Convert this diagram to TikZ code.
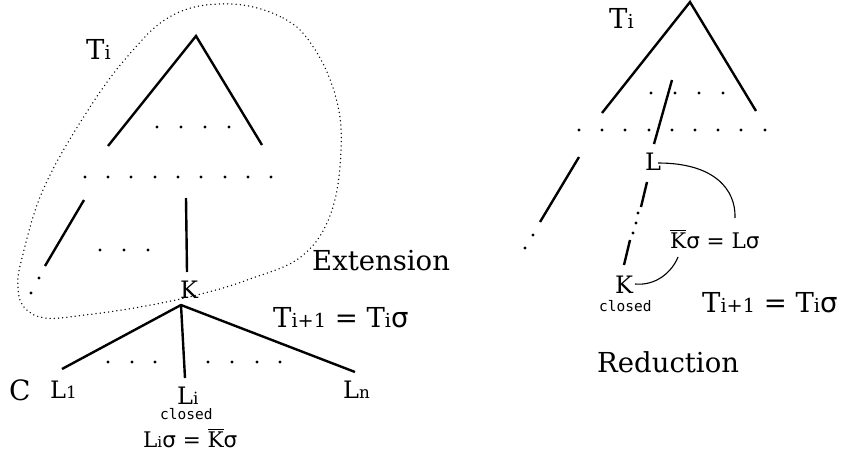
\documentclass[tikz,border=0pt]{standalone}
\usepackage{fontspec}
\usepackage{graphicx}
\setmainfont{DejaVu Serif}
\newfontfamily\sgfont{DejaVu Sans}
\newfontfamily\cmono{DejaVu Sans Mono}
\newcommand\lo[1]{\scalebox{0.7}{#1}}
\newcommand\sg{{\sgfont σ}}
\newcommand\ovl[1]{\vbox{\hrule height 1pt\kern1.8pt\hbox{#1}}}
\begin{document}
\begin{tikzpicture}[x=1pt,y=-1pt,
  br/.style={line width=2.4pt},
  fine/.style={line width=1.1pt},
  blob/.style={line width=1.5pt, line cap=round, dash pattern=on 0pt off 4.2pt},
  txt/.style={inner sep=0pt, anchor=base west},
  big/.style={txt, font=\fontsize{27.5}{32}\selectfont},
  mid/.style={txt, font=\fontsize{24}{28}\selectfont},
  eqs/.style={txt, font=\fontsize{21.5}{26}\selectfont},
  cls/.style={txt, font=\cmono\fontsize{14.5}{17}\selectfont},
  pt/.style={circle, fill=black, inner sep=0pt, minimum size=3.4pt}
]
\useasboundingbox (0,0) rectangle (845,457);

% ---------------- left: extension ----------------
\coordinate (la) at (196,36);
\coordinate (lal) at (108,146);
\coordinate (lar) at (262,145);
\draw[br] (lal) -- (la) -- (lar);
\foreach \x in {157,181,205,229} \node[pt] at (\x,127) {};
\foreach \x in {85,108,131,155,178,201,225,248,271} \node[pt] at (\x,177) {};
\coordinate (lb1) at (84,200);
\coordinate (lb2) at (45,266);
\draw[br] (lb1) -- (lb2);
\node[pt] (ld1) at (39,278) {};
\node[pt] (ld2) at (31,293) {};
\foreach \x in {100,124,148} \node[pt] at (\x,250) {};
\coordinate (lv1) at (186,198);
\coordinate (lv2) at (187,272);
\draw[br] (lv1) -- (lv2);
\node[mid] (K) at (180,298) {K};
\coordinate (kb) at (181,305);
\coordinate (e1) at (62,369);
\coordinate (ei) at (185,378);
\coordinate (en) at (355,372);
\draw[br, line join=round] (e1) -- (kb) -- (en);
\draw[br] (kb) -- (ei);
\foreach \x in {108,132,155,208,232,257,280} \node[pt] at (\x,362) {};

\draw[blob] plot[smooth cycle, tension=0.65] coordinates {
  (230,4) (283,18) (314,48) (336,98) (341,150) (331,213) (302,256)
  (250,279) (197,295) (140,307) (85,315) (45,318) (24,307) (18,287)
  (22,258) (43,190) (83,118) (127,57) (173,15)};

\node[big] (Ti) at (86,60) {T\lo{i}};
\node[big] (ext) at (312,270) {Extension};
\node[big] (Teq) at (273,327) {T\lo{i+1} = T\lo{i}\sg};
\node[txt, font=\fontsize{28}{32}\selectfont] (C) at (9,400) {C};
\node[mid] (L1) at (50,398) {L\lo{1}};
\node[mid] (Li) at (177,404) {L\lo{i}};
\node[cls] (cl1) at (160,419) {closed};
\node[eqs] (eq1) at (143,447) {L\lo{i}\sg{} = \ovl{K}\sg};
\node[mid] (Ln) at (343,398) {L\lo{n}};

% ---------------- right: reduction ----------------
\coordinate (ra) at (690,2);
\coordinate (ral) at (602,113);
\coordinate (rar) at (756,111);
\draw[br] (ral) -- (ra) -- (rar);
\foreach \x in {651,675,699,723} \node[pt] at (\x,93) {};
\foreach \x in {579,602,625,649,672,695,718,741,765} \node[pt] at (\x,130) {};
\coordinate (rv1) at (672,80);
\coordinate (rv2) at (654,144);
\draw[br] (rv1) -- (rv2);
\node[mid] (L) at (645,171) {L};
\coordinate (rs1) at (647,182);
\coordinate (rs2) at (641,207);
\draw[br] (rs1) -- (rs2);
\foreach \p in {(638,213),(636,223),(633,233)} \node[pt] at \p {};
\coordinate (rs3) at (630,240);
\coordinate (rs4) at (624,265);
\draw[br] (rs3) -- (rs4);
\node[mid] (K2) at (615,293) {K};
\node[cls] (cl2) at (599,311) {closed};
\coordinate (rb1) at (579,157);
\coordinate (rb2) at (540,222);
\draw[br] (rb1) -- (rb2);
\node[pt] (rd1) at (533,235) {};
\node[pt] (rd2) at (525,248) {};

\node[eqs] (eq2) at (670,248) {\ovl{K}\sg{} = L\sg};
\coordinate (Lr) at (658,163);
\coordinate (eqt) at (735,218);
\draw[fine] (Lr) .. controls (715,163) and (736,190) .. (eqt);
\coordinate (Kr) at (635,284);
\coordinate (eqb) at (678,257);
\draw[fine] (Kr) .. controls (656,286) and (672,272) .. (eqb);

\node[big] (Ti2) at (609,29) {T\lo{i}};
\node[big] (Teq2) at (702,312) {T\lo{i+1} = T\lo{i}\sg};
\node[big] (red) at (597,372) {Reduction};
\end{tikzpicture}
\end{document}
